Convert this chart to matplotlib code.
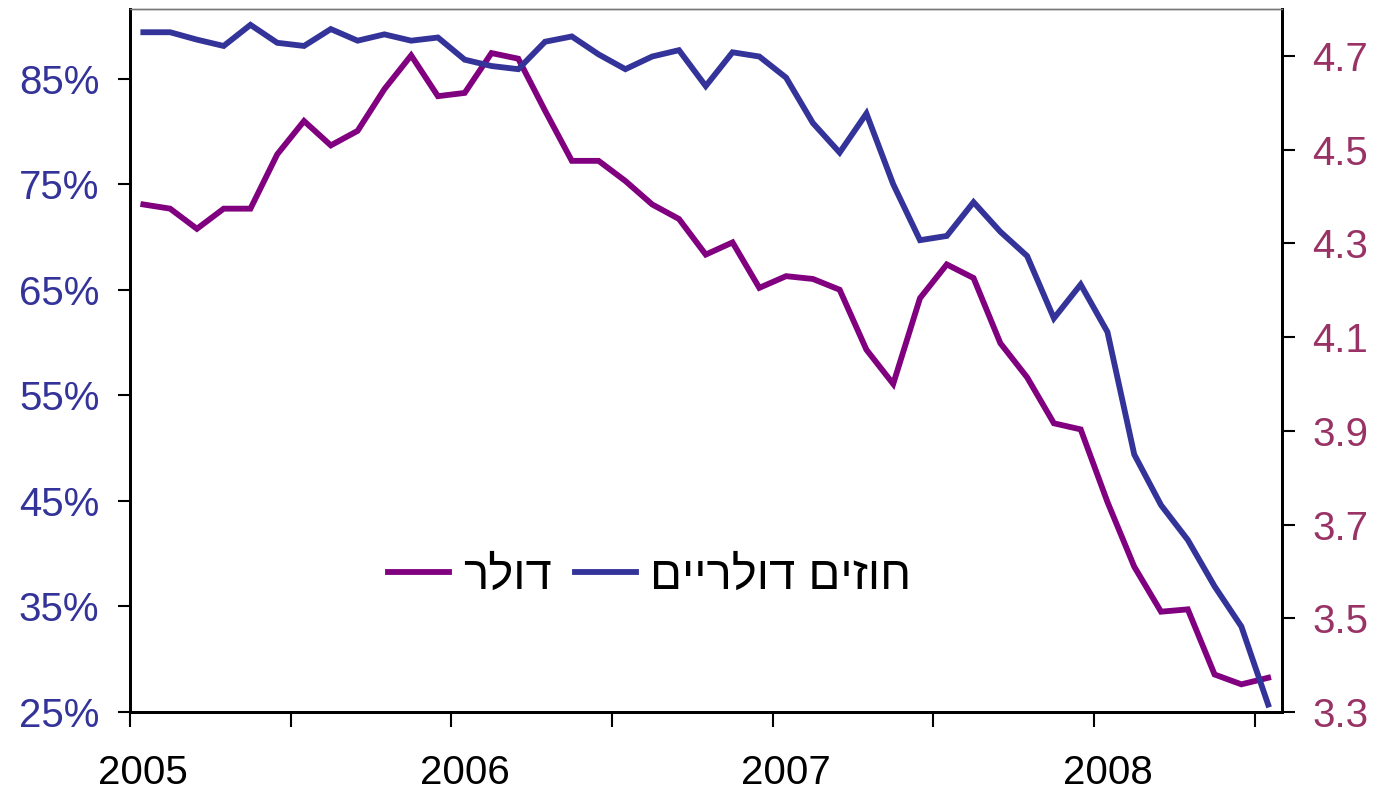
import numpy as np
import matplotlib
matplotlib.use("Agg")
import matplotlib.pyplot as plt

plt.rcParams['font.family'] = ['Liberation Sans', 'DejaVu Sans']

# monthly data, Jan 2005 .. Jul 2008
n_months = 43
contracts = [89.4, 89.4, 88.7, 88.1, 90.1, 88.4, 88.1, 89.7, 88.6, 89.2,
             88.6, 88.9, 86.8, 86.2, 85.9, 88.5, 89.0, 87.3, 85.9, 87.1,
             87.7, 84.3, 87.5, 87.1, 85.1, 80.8, 78.0, 81.7, 75.0, 69.7,
             70.1, 73.3, 70.5, 68.2, 62.3, 65.5, 61.0, 49.4, 44.6, 41.3,
             36.9, 33.1, 25.7]
dollar = [4.383, 4.374, 4.331, 4.374, 4.374, 4.490, 4.561, 4.509, 4.540, 4.629,
          4.701, 4.614, 4.621, 4.706, 4.694, 4.583, 4.476, 4.476, 4.433, 4.383,
          4.352, 4.276, 4.302, 4.205, 4.230, 4.224, 4.201, 4.073, 4.000, 4.183,
          4.255, 4.226, 4.087, 4.014, 3.916, 3.903, 3.748, 3.610, 3.514, 3.519,
          3.380, 3.359, 3.373]
years = [2005, 2006, 2007, 2008]
label_contracts = "חוזים דולריים"
label_dollar = "דולר"

blue = "#333399"
purple = "#800080"
right_col = "#993366"

t = 2005 + (np.arange(n_months) + 0.5) / 12.0

fig = plt.figure(figsize=(13.78, 7.91), dpi=100)
ax = fig.add_axes([0.0943, 0.0999, 0.8357, 0.8887])
ax2 = ax.twinx()
ax.set_zorder(ax2.get_zorder() + 1)
ax.patch.set_visible(False)

l1, = ax.plot(t, contracts, color=blue, lw=4.2, solid_joinstyle='miter')
l2, = ax2.plot(t, dollar, color=purple, lw=4.2, solid_joinstyle='miter')

ax.set_xlim(2005, 2005 + n_months / 12.0)
ax.set_ylim(25, 91.6)
ax2.set_ylim(3.3, 4.80)

ax.set_yticks(np.arange(25, 86, 10))
ax.set_yticklabels(["%d%%" % v for v in range(25, 86, 10)])
ax2.set_yticks(np.arange(3.3, 4.71, 0.2))
ax2.set_yticklabels(["%.1f" % v for v in np.arange(3.3, 4.71, 0.2)])

ax.set_xticks(2005 + np.arange(0, n_months, 6) / 12.0)
ax.set_xticklabels([])
ax.set_xticks([y + 1 / 24.0 for y in years], minor=True)
ax.set_xticklabels([str(y) for y in years], minor=True)
ax.tick_params(axis='x', which='minor', length=0, pad=30, labelsize=29)
ax.tick_params(axis='x', which='major', direction='out', length=11, width=1.5)

ax.tick_params(axis='y', direction='out', length=9, width=1.5, pad=13,
               labelsize=29, labelcolor=blue)
ax2.tick_params(axis='y', direction='out', length=9, width=1.5, pad=13,
                labelsize=29, labelcolor=right_col)

for a in (ax, ax2):
    for s in ('left', 'right', 'bottom'):
        a.spines[s].set_linewidth(2)
    a.spines['top'].set_linewidth(1)
    a.spines['top'].set_color('#777777')

leg = ax.legend([l2, l1], [label_dollar[::-1], label_contracts[::-1]],
                loc='center', bbox_to_anchor=(0.451, 0.192), ncol=2,
                frameon=False, fontsize=34, handlelength=1.3,
                handletextpad=0.28, columnspacing=0.5)

plt.savefig("out.png", dpi=100)
